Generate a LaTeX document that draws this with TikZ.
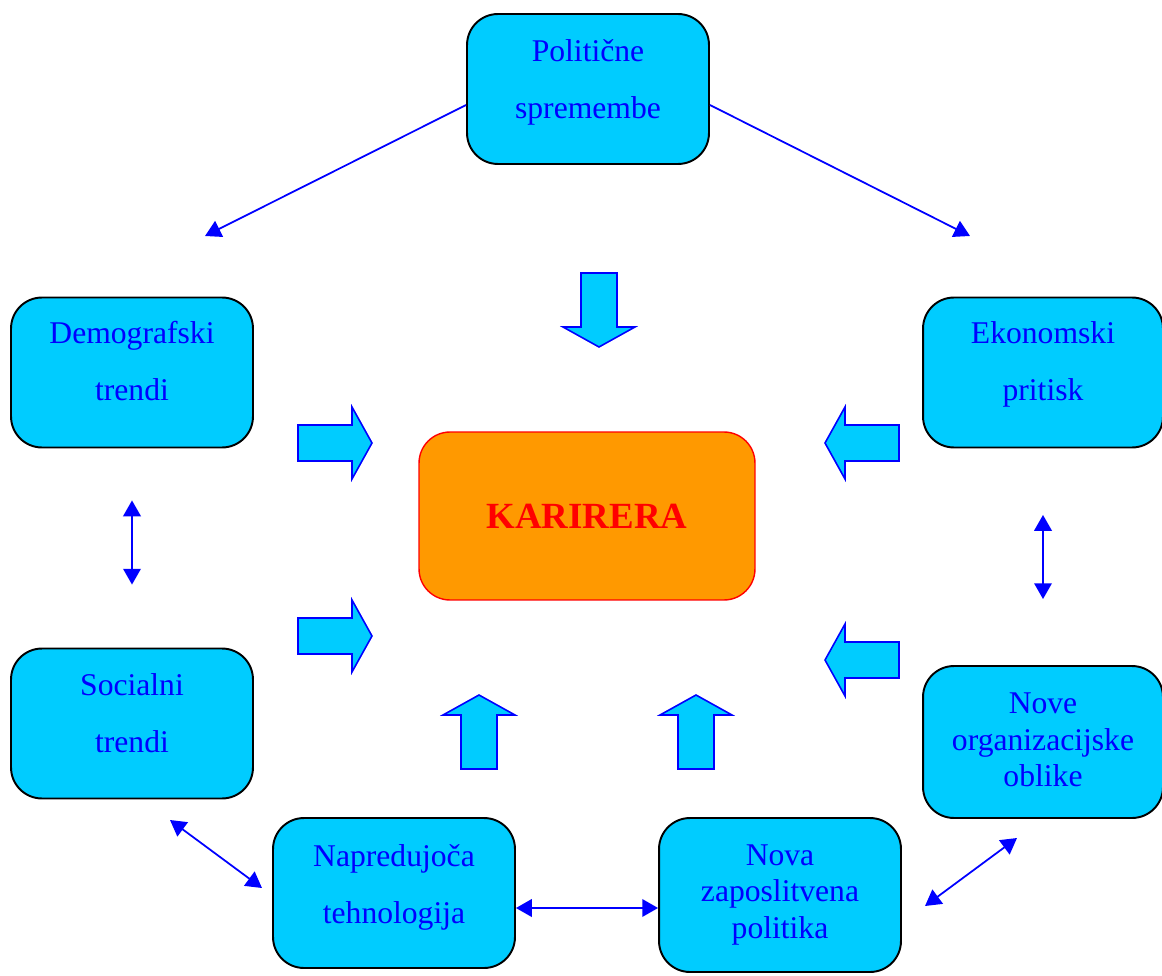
\documentclass[tikz,border=0pt]{standalone}
\usepackage{fontspec}
\setmainfont{Liberation Serif}
\usepackage{tikz}
\usetikzlibrary{
    positioning,
    arrows.meta,
    calc
}
\definecolor{boxcyan}{HTML}{00CCFF}
\definecolor{karorange}{HTML}{FF9900}

% fat arrow, tail centre at (#1,#2), turned by #3
\newcommand{\fatarrow}[3]{%
  \draw[fatarr, shift={(#1,#2)}, rotate=#3]
    (0,-18) -- (54,-18) -- (54,-36) -- (74,0) -- (54,36) -- (54,18) -- (0,18) -- cycle;}

\begin{document}
\begin{tikzpicture}[
      x=0.02cm, y=-0.02cm,
      factor/.style={rectangle, rounded corners=0.62cm, draw=black, line width=1.1pt,
          fill=boxcyan, minimum width=4.84cm, minimum height=3cm},
      ftext/.style={align=center, text=blue, inner sep=0pt,
          font=\fontsize{18}{32.4}\selectfont},
      ftextsm/.style={align=center, text=blue, inner sep=0pt,
          font=\fontsize{18}{20.7}\selectfont},
      karbox/.style={rectangle, rounded corners=0.62cm, draw=red, line width=0.8pt,
          fill=karorange, minimum width=6.72cm, minimum height=3.36cm,
          text=red, font=\fontsize{21}{25}\selectfont\bfseries},
      link/.style={blue, line width=1pt, -{Triangle[length=9pt,width=10pt]}},
      duallink/.style={blue, line width=1pt,
          {Triangle[length=9pt,width=10pt]}-{Triangle[length=9pt,width=10pt]}},
      fatarr/.style={draw=blue, line width=0.9pt, fill=boxcyan, line join=miter}
    ]
    \useasboundingbox (0,0) rectangle (1162,976);

    \node[factor] (pol) at (588,89) {};
    \node[ftext] (pol-t) at (588,82) {Politične\\spremembe};

    \node[factor] (demo) at (132,372.5) {};
    \node[ftext] (demo-t) at (132,361) {Demografski\\trendi};

    \node[factor, minimum width=4.8cm] (eko) at (1043,372.5) {};
    \node[ftext] (eko-t) at (1043,364.5) {Ekonomski\\pritisk};

    \node[karbox] (kar) at (587,516) {KARIRERA};

    \node[factor] (soc) at (132,723.5) {};
    \node[ftext] (soc-t) at (132,713.5) {Socialni\\trendi};

    \node[factor, minimum width=4.8cm, minimum height=3.04cm] (nove) at (1043,742) {};
    \node[ftextsm] (nove-t) at (1043,740) {Nove\\organizacijske\\oblike};

    \node[factor] (nap) at (394,893) {};
    \node[ftext] (nap-t) at (394,887) {Napredujoča\\tehnologija};

    \node[factor, minimum height=3.08cm] (nova) at (780,895) {};
    \node[ftextsm] (nova-t) at (780,895) {Nova\\zaposlitvena\\politika};

    % free ends
    \coordinate (dl) at (205,236);
    \coordinate (dr) at (970,236);
    \coordinate (sa) at (170,820);
    \coordinate (sb) at (262,888);
    \coordinate (na) at (1017,838);
    \coordinate (nb) at (925,906);

    \draw[link] ($(pol.west)+(0,16)$) -- (dl);
    \draw[link] ($(pol.east)+(0,16)$) -- (dr);

    \draw[duallink, shorten <=1.04cm, shorten >=1.26cm] (demo.south) -- (soc.north);
    \draw[duallink, shorten <=1.33cm, shorten >=1.32cm] (eko.south) -- (nove.north);
    \draw[duallink] (sa) -- (sb);
    \draw[duallink] ($(nap.east)+(0,15)$) -- ($(nova.west)+(0,13)$);
    \draw[duallink] (na) -- (nb);

    \fatarrow{599}{273}{-90}
    \fatarrow{298}{443}{0}
    \fatarrow{298}{636}{0}
    \fatarrow{899}{443}{180}
    \fatarrow{899}{660}{180}
    \fatarrow{479}{769}{90}
    \fatarrow{696}{769}{90}
  \end{tikzpicture}
\end{document}
